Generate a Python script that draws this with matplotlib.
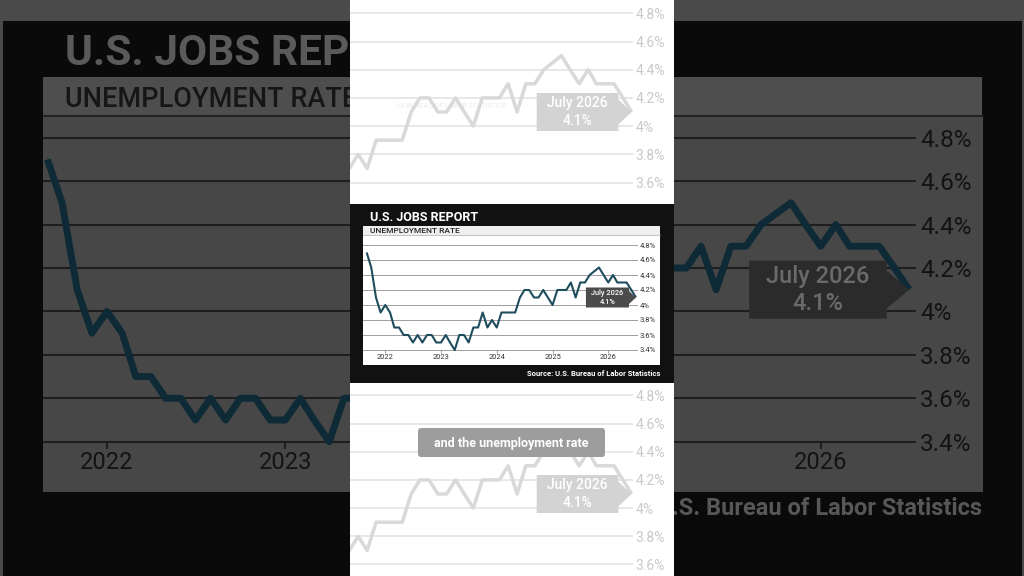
import matplotlib
matplotlib.use("Agg")
import matplotlib.pyplot as plt
import matplotlib.dates as mdates
from matplotlib.patches import Rectangle, Polygon, FancyBboxPatch
from matplotlib.transforms import IdentityTransform
import pandas as pd

W, H = 1024, 576

# ---- data (monthly unemployment rate, Oct 2025 not published) ----
first_month = "2021-09-01"
last_month = "2026-07-01"
rates = [4.7, 4.5, 4.1, 3.9,
         4.0, 3.9, 3.7, 3.7, 3.6, 3.6, 3.5, 3.6, 3.5, 3.6, 3.6, 3.5,
         3.5, 3.6, 3.5, 3.4, 3.6, 3.6, 3.5, 3.7, 3.7, 3.9, 3.7, 3.8,
         3.7, 3.9, 3.9, 3.9, 3.9, 4.1, 4.2, 4.2, 4.1, 4.1, 4.2, 4.1,
         4.0, 4.2, 4.2, 4.2, 4.3, 4.1, 4.3, 4.3, 4.4, None, 4.5, 4.4,
         4.3, 4.4, 4.3, 4.3, 4.3, 4.2, 4.1]
year_ticks = [2022, 2023, 2024, 2025, 2026]
y_ticks = [3.4, 3.6, 3.8, 4.0, 4.2, 4.4, 4.6, 4.8]
y_tick_labels = ["3.4%", "3.6%", "3.8%", "4%", "4.2%", "4.4%", "4.6%", "4.8%"]
title = "U.S. JOBS REPORT"
subtitle = "UNEMPLOYMENT RATE"
source = "Source: U.S. Bureau of Labor Statistics"
callout_lines = ["July 2026", "4.1%"]
caption = "and the unemployment rate"
watermark = "US BUREAU OF LABOR STATISTICS"

months = pd.date_range(first_month, last_month, freq="MS")
df = pd.DataFrame({"month": months, "rate": rates}).dropna()
xs = mdates.date2num(df["month"].values)
ys = df["rate"].values.astype(float)
year_pos = [mdates.date2num(pd.Timestamp(f"{y}-01-01")) for y in year_ticks]
D0 = mdates.date2num(pd.Timestamp("2022-01-01"))

plt.rcParams["font.family"] = ["Roboto", "DejaVu Sans"]

fig = plt.figure(figsize=(W / 100, H / 100), dpi=100)
fig.patch.set_facecolor("#4a4a4a")


def overlay(z):
    ax = fig.add_axes([0, 0, 1, 1], zorder=z)
    ax.set_xlim(0, W)
    ax.set_ylim(H, 0)
    ax.axis("off")
    return ax


def box(ax, x0, y0, x1, y1, color):
    ax.add_patch(Rectangle((x0, y0), x1 - x0, y1 - y0, facecolor=color,
                           edgecolor="none"))


def plot_axes(z, rect, x_ref, ppd, y48, ppp):
    # rect in image pixels; x_ref = pixel of Jan 2022, ppd = px per day,
    # y48 = pixel of the 4.8% line, ppp = px per percentage point
    x0, y0, x1, y1 = rect
    ax = fig.add_axes([x0 / W, 1 - y1 / H, (x1 - x0) / W, (y1 - y0) / H], zorder=z)
    ax.set_xlim(D0 + (x0 - x_ref) / ppd, D0 + (x1 - x_ref) / ppd)
    lo, hi = 4.8 - (y1 - y48) / ppp, 4.8 - (y0 - y48) / ppp
    ax.set_ylim(lo, hi)
    ax.patch.set_alpha(0)
    for s in ax.spines.values():
        s.set_color("none")
    ax.yaxis.tick_right()
    keep = [i for i, v in enumerate(y_ticks) if lo + 0.03 < v < hi]
    ax.set_yticks([y_ticks[i] for i in keep], [y_tick_labels[i] for i in keep])
    return ax


def style_chart(ax, grid_c, grid_w, line_c, line_w, lab_c, ylab_fs, ypad,
                xlab_fs=None, tick_len=0, xpad=0):
    for v in y_ticks:
        ax.axhline(v, color=grid_c, lw=grid_w, zorder=1)
    ax.plot(xs, ys, color=line_c, lw=line_w, zorder=2, solid_capstyle="butt")
    ax.tick_params(axis="y", length=0, pad=ypad, labelsize=ylab_fs, labelcolor=lab_c)
    if xlab_fs:
        ax.spines["bottom"].set_position(("data", 3.4))
        ax.set_xticks(year_pos, [str(y) for y in year_ticks])
        ax.tick_params(axis="x", direction="out", length=tick_len, width=grid_w,
                       color=grid_c, pad=xpad, labelsize=xlab_fs, labelcolor=lab_c)
    else:
        ax.set_xticks([])


def callout(ax, sx, sy, face, tc, fs):
    tx, ty = ax.transData.transform((xs[-1], ys[-1]))
    gap, bw, bh, th = 7 * sx, 43 * sx, 20 * sy, 6.5 * sy
    right = tx - gap
    left = right - bw
    verts = [(left, ty + bh / 2), (right, ty + bh / 2), (right, ty + th), (tx, ty),
             (right, ty - th), (right, ty - bh / 2), (left, ty - bh / 2)]
    ax.add_patch(Polygon(verts, closed=True, transform=IdentityTransform(),
                         facecolor=face, edgecolor="none", clip_on=False, zorder=5))
    cx = (left + right) / 2
    for line, dy in zip(callout_lines, [4.6, -4.6]):
        ax.text(cx, ty + dy * sy, line, transform=IdentityTransform(),
                ha="center", va="center", color=tc, fontsize=fs,
                fontweight="medium", zorder=6, clip_on=False)


# ---- big darkened background chart ----
bg = overlay(0)
box(bg, 3, 20.7, 1021.7, 576, "#0a0a0a")
box(bg, 43, 77, 982, 116, "#4e4e4e")
box(bg, 43, 116, 982.7, 492, "#474747")
bg.plot([43, 982.7], [116, 116], color="#1a1a1a", lw=1.2)
bg.text(65, 65, title, color="#5a5a5a", fontsize=30.5, fontweight="bold", va="baseline")
bg.text(65, 106.7, subtitle, color="#161616", fontsize=19.5, fontweight="medium",
        va="baseline")
bg.text(982, 515, source, color="#575757", fontsize=17, fontweight="bold",
        va="baseline", ha="right")

big = plot_axes(1, (43, 116, 916, 492), 107, 713.7 / 1461, 137.7, 304 / 1.4)
style_chart(big, "#1e1e1e", 1.5, "#0e2a36", 5, "#131313", 17.5, 3,
            xlab_fs=17, tick_len=4.8, xpad=2.2)
callout(big, 3.2, 2.9, "#2b2b2b", "#6a6a6a", 17)

# ---- white centre column with faded copies ----
col = overlay(2)
box(col, 350, 0, 673.5, 576, "#ffffff")
col.text(451, 106.5, watermark, color="#ebebeb", fontsize=5, ha="center", va="center")

for rect, y48 in zip([(350, 0, 633, 204), (350, 383, 633, 576)], [13.3, 395.3]):
    fa = plot_axes(3, rect, 631.7 - 1642 * 0.2901, 0.2901, y48, 141)
    style_chart(fa, "#e2e2e2", 1.1, "#d9d9d9", 2.5, "#c9c9c9", 10, 2)
    callout(fa, 1.9, 1.9, "#d3d3d3", "#ffffff", 10)

cap = overlay(4)
cap.add_patch(FancyBboxPatch((420, 430), 183, 25, boxstyle="round,pad=2,rounding_size=3",
                             facecolor="#9d9d9d", edgecolor="none"))
cap.text(511.5, 443, caption, color="#ffffff", fontsize=9, fontweight="bold",
         ha="center", va="center")

# ---- small chart in the middle ----
sm = overlay(5)
box(sm, 350, 204, 673.5, 383, "#111111")
box(sm, 363, 226, 660, 235, "#eeeeee")
box(sm, 363, 235, 660, 365, "#ffffff")
sm.plot([363, 660], [235, 235], color="#aaaaaa", lw=0.5)
sm.text(370, 221, title, color="#ffffff", fontsize=9, fontweight="bold", va="baseline")
sm.text(370, 233.3, subtitle, color="#222222", fontsize=6, fontweight="medium",
        va="baseline")
sm.text(660, 376, source, color="#ffffff", fontsize=5.5, fontweight="bold",
        va="baseline", ha="right")

small = plot_axes(6, (363, 235, 638, 365), 385.3, 223 / 1461, 245, 75)
style_chart(small, "#8e8e8e", 0.6, "#1f4d5e", 1.5, "#333333", 5.5, 1,
            xlab_fs=5.3, tick_len=2.2, xpad=1)
callout(small, 1, 1, "#4b4b4b", "#ffffff", 5.3)

fig.savefig("out.png", dpi=100, facecolor=fig.get_facecolor())
